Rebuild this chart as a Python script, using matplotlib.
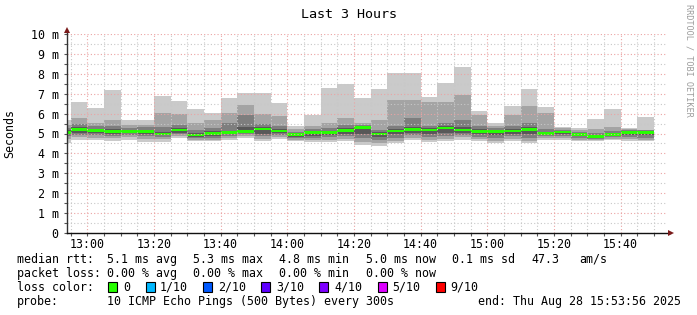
import numpy as np
import pandas as pd
import matplotlib
matplotlib.use('Agg')
from matplotlib import pyplot as plt
import matplotlib.dates as mdates
from matplotlib.ticker import MultipleLocator, FixedLocator, FixedFormatter
from matplotlib.patches import Rectangle

# time window: last 3 hours, ends 15:53:56
t_start = pd.Timestamp('2025-08-28 12:53:56')
t_end = pd.Timestamp('2025-08-28 15:53:56')
# each 5 min step ends at these times (first one is cut by the axis)
bar_end = pd.date_range('2025-08-28 12:55', '2025-08-28 15:50', freq='5min')

# 10 pings per step, sorted, in ms
pings = [
    [4.52, 4.70, 4.85, 4.95, 5.03, 5.09, 5.18, 5.30, 5.45, 5.68],
    [4.67, 4.80, 4.92, 5.05, 5.17, 5.23, 5.32, 5.50, 5.76, 6.57],
    [4.67, 4.78, 4.90, 5.02, 5.12, 5.16, 5.25, 5.38, 5.54, 6.27],
    [4.62, 4.75, 4.88, 5.00, 5.10, 5.14, 5.22, 5.40, 5.68, 7.19],
    [4.67, 4.80, 4.92, 5.02, 5.09, 5.13, 5.20, 5.30, 5.45, 5.66],
    [4.59, 4.72, 4.85, 4.98, 5.08, 5.12, 5.20, 5.32, 5.42, 5.68],
    [4.59, 4.72, 4.82, 4.90, 4.95, 4.99, 5.10, 5.35, 6.01, 6.90],
    [4.76, 4.85, 4.95, 5.05, 5.15, 5.21, 5.30, 5.45, 6.00, 6.63],
    [4.60, 4.68, 4.76, 4.84, 4.90, 4.94, 5.02, 5.20, 5.55, 6.23],
    [4.60, 4.68, 4.78, 4.88, 4.97, 5.03, 5.12, 5.30, 5.68, 6.05],
    [4.67, 4.76, 4.86, 4.95, 5.02, 5.06, 5.15, 5.55, 6.05, 6.80],
    [4.76, 4.86, 4.96, 5.02, 5.08, 5.12, 5.35, 5.93, 6.43, 7.05],
    [4.60, 4.72, 4.85, 5.00, 5.20, 5.26, 5.35, 5.50, 6.00, 7.02],
    [4.72, 4.82, 4.92, 5.02, 5.11, 5.15, 5.25, 5.40, 5.90, 6.52],
    [4.60, 4.68, 4.76, 4.84, 4.92, 4.96, 5.02, 5.10, 5.22, 5.39],
    [4.55, 4.65, 4.76, 4.88, 5.02, 5.06, 5.12, 5.22, 5.40, 5.93],
    [4.55, 4.68, 4.80, 4.92, 5.02, 5.06, 5.14, 5.30, 5.53, 7.30],
    [4.60, 4.72, 4.85, 4.98, 5.14, 5.18, 5.28, 5.45, 5.76, 7.49],
    [4.42, 4.58, 4.75, 4.95, 5.27, 5.31, 5.38, 5.45, 5.53, 6.77],
    [4.37, 4.52, 4.68, 4.82, 4.95, 4.99, 5.06, 5.20, 5.68, 7.22],
    [4.50, 4.62, 4.78, 4.95, 5.11, 5.15, 5.25, 5.40, 6.68, 8.06],
    [4.67, 4.78, 4.90, 5.05, 5.19, 5.23, 5.32, 5.76, 6.68, 8.03],
    [4.55, 4.68, 4.82, 4.98, 5.16, 5.20, 5.28, 5.40, 6.60, 6.82],
    [4.60, 4.72, 4.88, 5.05, 5.26, 5.30, 5.40, 5.55, 6.60, 7.52],
    [4.67, 4.80, 4.92, 5.05, 5.16, 5.20, 5.35, 5.70, 6.93, 8.33],
    [4.60, 4.70, 4.82, 4.95, 5.08, 5.12, 5.22, 5.40, 5.95, 6.13],
    [4.50, 4.62, 4.75, 4.90, 5.08, 5.12, 5.18, 5.26, 5.36, 5.51],
    [4.60, 4.72, 4.85, 4.98, 5.11, 5.15, 5.25, 5.40, 5.95, 6.40],
    [4.50, 4.62, 4.78, 4.95, 5.18, 5.22, 5.32, 5.55, 6.40, 7.24],
    [4.67, 4.76, 4.85, 4.93, 4.99, 5.03, 5.10, 5.25, 6.05, 6.35],
    [4.67, 4.76, 4.86, 4.95, 5.06, 5.10, 5.15, 5.20, 5.26, 5.34],
    [4.60, 4.68, 4.76, 4.85, 4.92, 4.96, 5.02, 5.10, 5.20, 5.29],
    [4.60, 4.66, 4.72, 4.78, 4.82, 4.86, 4.94, 5.05, 5.25, 5.71],
    [4.67, 4.74, 4.82, 4.88, 4.92, 4.96, 5.04, 5.15, 5.35, 6.22],
    [4.60, 4.70, 4.80, 4.90, 5.02, 5.06, 5.12, 5.18, 5.23, 5.29],
    [4.60, 4.68, 4.78, 4.90, 5.04, 5.08, 5.12, 5.16, 5.20, 5.85],
]
median = [5.06, 5.20, 5.14, 5.12, 5.11, 5.10, 4.97, 5.18, 4.92, 5.00, 5.04, 5.10,
          5.23, 5.13, 4.94, 5.04, 5.04, 5.16, 5.29, 4.97, 5.13, 5.21, 5.18, 5.28,
          5.18, 5.10, 5.10, 5.13, 5.20, 5.01, 5.08, 4.94, 4.84, 4.94, 5.04, 5.06]

ytick_vals = [0, 1, 2, 3, 4, 5, 6, 7, 8, 9, 10]
ytick_labels = ['0', '1 m', '2 m', '3 m', '4 m', '5 m', '6 m', '7 m', '8 m', '9 m', '10 m']

smoke_col = ['#cacaca', '#a4a4a4', '#7e7e7e', '#585858', '#323232']
loss_labels = ['0', '1/10', '2/10', '3/10', '4/10', '5/10', '9/10']
loss_cols = ['#26ff00', '#00b8ff', '#0059ff', '#5e00ff', '#7e00ff', '#dd00ff', '#ff0000']
loss_box_x = [108, 146, 203, 261, 319, 378, 436]
loss_txt_x = [123, 160, 218, 276, 334, 392, 450]

W, H = 697, 315
mono = 'DejaVu Sans Mono'
fs = 8.4

def fx(x):
    return x / W

def fy(y):
    return 1 - y / H

fig = plt.figure(figsize=(W / 100, H / 100), dpi=100, facecolor='white')
ax = fig.add_axes([fx(67), fy(233), (667 - 67) / W, (233 - 34) / H])
ax.set_facecolor('white')

p = np.array(pings)
med = np.array(median)
x = mdates.date2num(bar_end - pd.Timedelta('5min'))
w = 5 / 1440.0

# smoke: pairs of pings, lightest outside, darkest inside
for i in range(5):
    ax.bar(x, p[:, 9 - i] - p[:, i], bottom=p[:, i], width=w, align='edge',
           color=smoke_col[i], linewidth=0, antialiased=False, zorder=1)
# median band
ax.bar(x, 0.14, bottom=med - 0.07, width=w, align='edge', color=loss_cols[0],
       linewidth=0, antialiased=False, zorder=2)

ax.set_xlim(mdates.date2num(t_start), mdates.date2num(t_end))
ax.set_ylim(0, 10)

ax.xaxis.set_major_locator(mdates.MinuteLocator(byminute=[0, 20, 40]))
ax.xaxis.set_minor_locator(mdates.MinuteLocator(byminute=range(0, 60, 5)))
ax.xaxis.set_major_formatter(mdates.DateFormatter('%H:%M'))
ax.yaxis.set_major_locator(FixedLocator(ytick_vals))
ax.yaxis.set_major_formatter(FixedFormatter(ytick_labels))
ax.yaxis.set_minor_locator(MultipleLocator(0.5))

ax.set_axisbelow(False)
ax.grid(which='minor', color='#c8c8c8', linestyle=(0, (1, 2)), linewidth=0.8)
ax.grid(which='major', color='#eba3a3', linestyle=(0, (1, 2)), linewidth=0.8)

for s in ax.spines.values():
    s.set_visible(False)
ax.tick_params(which='both', direction='out', length=2, width=0.8, color='#555555')
ax.tick_params(axis='y', which='both', pad=4)
ax.tick_params(axis='x', which='both', pad=1.5)
for lab in ax.get_xticklabels() + ax.get_yticklabels():
    lab.set_fontfamily(mono)
    lab.set_fontsize(fs)

# axis lines with arrows
ax.plot([0, 0], [0, 1.02], color='#333333', lw=1, transform=ax.transAxes, clip_on=False, zorder=5)
ax.plot([0, 1.005], [0, 0], color='#111111', lw=1, transform=ax.transAxes, clip_on=False, zorder=5)
ax.plot(0, 1.018, marker='^', color='#7a1a1a', ms=5, mew=0, transform=ax.transAxes, clip_on=False, zorder=6)
ax.plot(1.006, 0, marker='>', color='#7a1a1a', ms=5, mew=0, transform=ax.transAxes, clip_on=False, zorder=6)

# titles
fig.text(fx(349), fy(17.7), 'Last 3 Hours', ha='center', va='baseline', family=mono, fontsize=9.6)
fig.text(fx(10), fy(133), 'Seconds', ha='center', va='center', rotation=90, family=mono, fontsize=fs)
fig.text(fx(689), fy(4), 'RRDTOOL / TOBI OETIKER', ha='center', va='top', rotation=-90,
         family=mono, fontsize=6.1, color='#9c9c9c')

# legend lines
def put(x, y, s):
    fig.text(fx(x), fy(y), s, ha='left', va='baseline', family=mono, fontsize=fs)

put(17, 263, 'median rtt:')
for xx, s in zip([107, 193, 279, 366, 452, 531, 579],
                 ['5.1 ms avg', '5.3 ms max', '4.8 ms min', '5.0 ms now', '0.1 ms sd', '47.3', 'am/s']):
    put(xx, 263, s)

put(17, 277, 'packet loss:')
for xx, s in zip([107, 193, 279, 366],
                 ['0.00 % avg', '0.00 % max', '0.00 % min', '0.00 % now']):
    put(xx, 277, s)

put(17, 291, 'loss color:')
for bx, tx, lab, col in zip(loss_box_x, loss_txt_x, loss_labels, loss_cols):
    fig.patches.append(Rectangle((fx(bx), fy(292)), 9 / W, 10 / H, transform=fig.transFigure,
                                 facecolor=col, edgecolor='black', linewidth=0.8))
    put(tx, 291, lab)

put(17, 305, 'probe:')
put(107, 305, '10 ICMP Echo Pings (500 Bytes) every 300s')
put(478, 305, 'end: Thu Aug 28 15:53:56 2025')

fig.savefig('out.png', dpi=100, facecolor='white')
